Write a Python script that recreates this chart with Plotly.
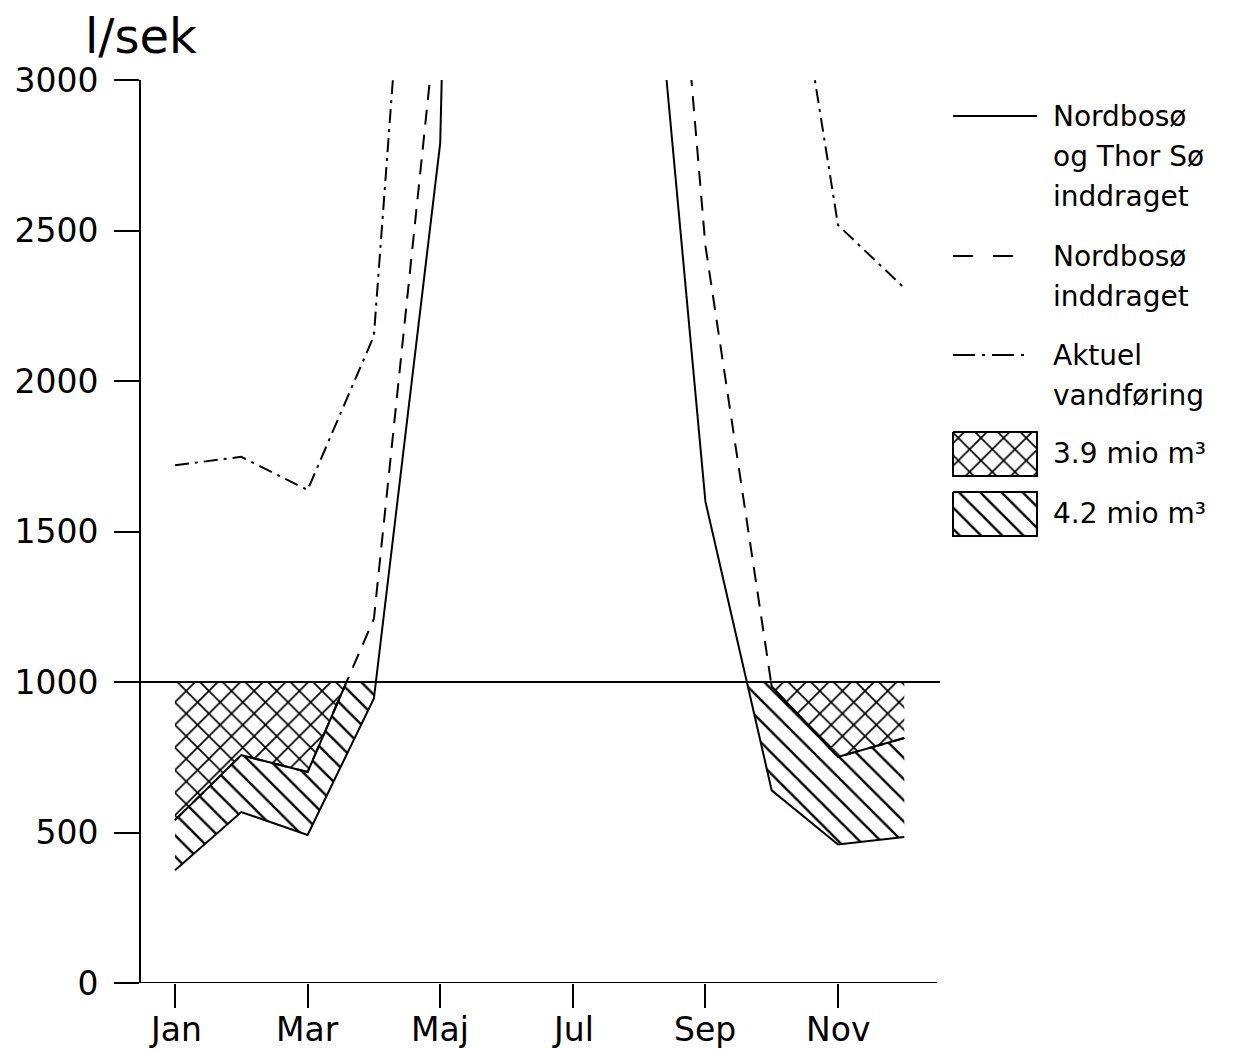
import numpy as np
import plotly.graph_objects as go

# ---------------- data ----------------
months = ["Jan", "Feb", "Mar", "Apr", "Maj", "Jun", "Jul", "Aug", "Sep", "Okt", "Nov", "Dec"]
month_num = list(range(1, 13))
tick_months = [1, 3, 5, 7, 9, 11]
tick_labels = ["Jan", "Mar", "Maj", "Jul", "Sep", "Nov"]
y_ticks = [0, 500, 1000, 1500, 2000, 2500, 3000]

# l/sek (summer values run far off the top of the axis)
flow_nordbo_thor = [375, 568, 492, 945, 2790, 12000, 12000, 3990, 1600, 640, 460, 485]
flow_nordbo = [541, 757, 701, 1210, 3330, 12000, 12000, 5060, 2450, 985, 751, 814]
flow_actual = [1720, 1748, 1638, 2150, 5125, 15000, 15000, 15000, 15000, 3900, 2518, 2309]
threshold = 1000

legend_lines = [["Nordbosø", "og Thor Sø", "inddraget"], ["Nordbosø", "inddraget"], ["Aktuel", "vandføring"]]
legend_areas = ["3.9 mio m³", "4.2 mio m³"]

# ---------------- geometry (screen pixels; page body has an 8px margin) ----------------
OFF = 8
W, H = 1247 - OFF, 1051 - OFF
PX_L, PX_R, PX_T, PX_B = 141, 937, 80, 983
PX_JAN, PX_MONTH = 175, 66.3
FONT = "DejaVu Sans"


def fx(px):
    return (px - OFF) / W


def fy(py):
    return 1 - (py - OFF) / H


def crossings(x, y, level):
    out = []
    for i in range(len(x) - 1):
        a, b = y[i] - level, y[i + 1] - level
        if a * b < 0:
            out.append(x[i] + (x[i + 1] - x[i]) * a / (a - b))
    return out


grid = sorted(set(month_num
                  + crossings(month_num, flow_nordbo_thor, threshold)
                  + crossings(month_num, flow_nordbo, threshold)))
thor_g = np.interp(grid, month_num, flow_nordbo_thor)
nord_g = np.interp(grid, month_num, flow_nordbo)
thor_c = np.minimum(thor_g, threshold)
nord_c = np.minimum(nord_g, threshold)
nord_below = [float(v) if v <= threshold + 1e-6 else None for v in nord_g]

CROSS = dict(shape="x", size=16, solidity=0.2, fgcolor="black", bgcolor="white", fillmode="replace")
DIAG = dict(shape="\\", size=15, solidity=0.16, fgcolor="black", bgcolor="white", fillmode="replace")

fig = go.Figure()

# cross-hatched deficit: between threshold and "Nordbosø inddraget"
fig.add_trace(go.Scatter(x=grid, y=nord_c, mode="lines", line=dict(width=0),
                         showlegend=False, hoverinfo="skip"))
fig.add_trace(go.Scatter(x=grid, y=[threshold] * len(grid), mode="lines", line=dict(width=0),
                         fill="tonexty", fillcolor="white", fillpattern=CROSS,
                         showlegend=False, hoverinfo="skip"))
# diagonal-hatched: between the two scenarios
fig.add_trace(go.Scatter(x=grid, y=thor_c, mode="lines", line=dict(width=0),
                         showlegend=False, hoverinfo="skip"))
fig.add_trace(go.Scatter(x=grid, y=nord_c, mode="lines", line=dict(width=0),
                         fill="tonexty", fillcolor="white", fillpattern=DIAG,
                         showlegend=False, hoverinfo="skip"))

# lines
fig.add_trace(go.Scatter(x=month_num, y=flow_actual, mode="lines",
                         line=dict(color="black", width=2, dash="14px,6px,3px,6px"),
                         showlegend=False, hoverinfo="skip"))
fig.add_trace(go.Scatter(x=month_num, y=flow_nordbo, mode="lines",
                         line=dict(color="black", width=2, dash="15px,10px"),
                         showlegend=False, hoverinfo="skip"))
fig.add_trace(go.Scatter(x=grid, y=nord_below, mode="lines", connectgaps=False,
                         line=dict(color="black", width=2),
                         showlegend=False, hoverinfo="skip"))
fig.add_trace(go.Scatter(x=month_num, y=flow_nordbo_thor, mode="lines",
                         line=dict(color="black", width=2),
                         showlegend=False, hoverinfo="skip"))

# ---------------- legend (drawn in a screen-pixel overlay axis) ----------------
LX0, LX1 = 953, 1037
TX = 1051
line_rows = [116, 256, 355]
dash_styles = ["solid", "20px,20px", "22px,7px,3px,7px"]
line_ends = [1037, 1013, 1025]
for row, dsh, xe in zip(line_rows, dash_styles, line_ends):
    fig.add_trace(go.Scatter(x=[LX0, xe], y=[row, row], xaxis="x2", yaxis="y2", mode="lines",
                             line=dict(color="black", width=2, dash=dsh),
                             showlegend=False, hoverinfo="skip"))
box_rows = [(432, 476), (492, 536)]
for (yt, yb), pat in zip(box_rows, [CROSS, DIAG]):
    fig.add_trace(go.Scatter(x=[LX0, LX1, LX1, LX0, LX0], y=[yt, yt, yb, yb, yt],
                             xaxis="x2", yaxis="y2", mode="lines", fill="toself",
                             fillcolor="white", fillpattern=pat,
                             line=dict(color="black", width=2),
                             showlegend=False, hoverinfo="skip"))

annotations = []
LINE_GAP = 40
for lines, row in zip(legend_lines, line_rows):
    for k, txt in enumerate(lines):
        annotations.append(dict(x=TX, y=row + k * LINE_GAP, xref="x2", yref="y2", text=txt,
                                showarrow=False, xanchor="left", yanchor="middle",
                                font=dict(family=FONT, size=28, color="black")))
for txt, (yt, yb) in zip(legend_areas, box_rows):
    annotations.append(dict(x=TX, y=(yt + yb) / 2 - 1, xref="x2", yref="y2", text=txt,
                            showarrow=False, xanchor="left", yanchor="middle",
                            font=dict(family=FONT, size=28, color="black")))
annotations.append(dict(x=141, y=36, xref="x2", yref="y2", text="l/sek", showarrow=False,
                        xanchor="center", yanchor="middle",
                        font=dict(family=FONT, size=48, color="black")))
# month labels under the ticks (placed at the tick months, pixel row below the axis)
for m, lab in zip(tick_months, tick_labels):
    annotations.append(dict(x=m, y=1029, xref="x", yref="y2", text=lab, showarrow=False,
                            xanchor="center", yanchor="middle",
                            font=dict(family=FONT, size=33, color="black")))

x_lo = 1 - (PX_JAN - PX_L) / PX_MONTH
x_hi = 1 + (PX_R - PX_JAN) / PX_MONTH

fig.update_layout(
    template="none",
    width=W, height=H,
    margin=dict(l=0, r=0, t=0, b=0, autoexpand=False),
    paper_bgcolor="white", plot_bgcolor="rgba(0,0,0,0)",
    showlegend=False,
    font=dict(family=FONT, color="black"),
    xaxis=dict(domain=[fx(PX_L), fx(PX_R)], range=[x_lo, x_hi], automargin=False,
               tickmode="array", tickvals=tick_months, ticktext=tick_labels,
               showticklabels=False,
               ticks="outside", ticklen=24, tickwidth=2, tickcolor="black",
               showline=False, showgrid=False, zeroline=False, fixedrange=True),
    yaxis=dict(domain=[fy(PX_B), fy(PX_T)], range=[0, 3000], automargin=False,
               tickmode="array", tickvals=y_ticks,
               ticks="outside", ticklen=25, tickwidth=2, tickcolor="black",
               tickfont=dict(family=FONT, size=33, color="black"),
               ticklabelstandoff=9,
               showline=True, linewidth=2, linecolor="black",
               showgrid=False, zeroline=False, fixedrange=True),
    xaxis2=dict(domain=[0, 1], range=[OFF, OFF + W], visible=False, fixedrange=True,
                anchor="y2", automargin=False),
    yaxis2=dict(domain=[0, 1], range=[OFF + H, OFF], visible=False, fixedrange=True,
                anchor="x2", automargin=False),
    annotations=annotations,
    shapes=[
        # x-axis baseline extending left past the y-axis
        dict(type="line", xref="paper", yref="y", x0=fx(119), x1=fx(PX_R), y0=0, y1=0,
             line=dict(color="black", width=2)),
        # 1000 l/sek reference line
        dict(type="line", xref="paper", yref="y", x0=fx(PX_L), x1=fx(940),
             y0=threshold, y1=threshold, line=dict(color="black", width=2)),
    ],
)

fig.write_html("out.html")
